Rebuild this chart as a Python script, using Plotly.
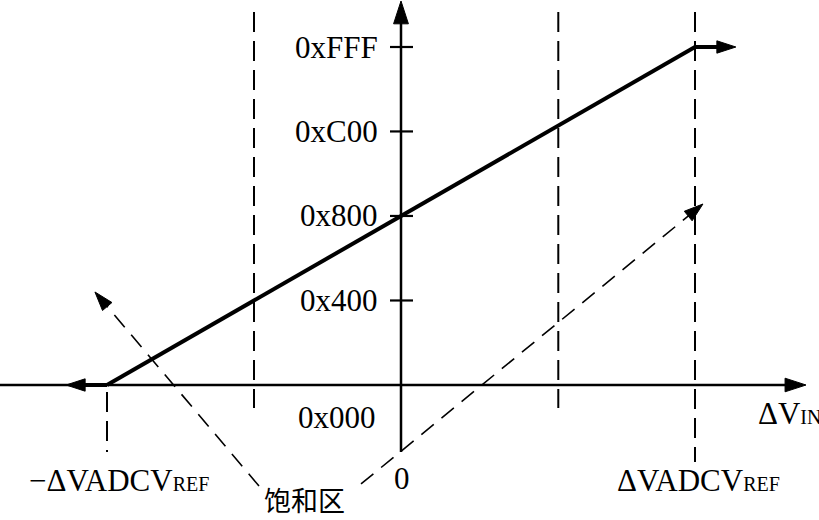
import plotly.graph_objects as go

# ---------------- data (in diagram units) ----------------
# x in units of ΔVADCV_REF, y in ADC codes
ref_points = [-1.0, 1.0]              # -ΔVADCV_REF, +ΔVADCV_REF
code_points = [0, 4095]               # 0x000 .. 0xFFF
sat_left_x = [-1.0, -1.139]           # left saturation (held at 0x000)
sat_left_y = [0, 0]
sat_right_x = [1.0, 1.139]            # right saturation (held at 0xFFF)
sat_right_y = [4095, 4095]
tick_codes = [1024, 2048, 3072, 4095]
tick_labels = ["0x400", "0x800", "0xC00", "0xFFF"]
inner_guides = [-0.5, 0.535]          # inner dashed guide lines
# dashed pointers from the "饱和区" label
pointer_left_x = [-0.483, -1.041]
pointer_left_y = [-1224, 1127]
pointer_right_x = [-0.136, 1.027]
pointer_right_y = [-1199, 2193]

# ---------------- layout constants ----------------
W, H = 819, 520
X0_PX, X_SCALE = 401.0, 294.0        # px of x=0, px per unit
Y0_PX, Y_SCALE = 385.0, 0.08254      # px of code 0, px per code

def xd(px):
    return (px - X0_PX) / X_SCALE

def yd(px):
    return (Y0_PX - px) / Y_SCALE

xr = [xd(0), xd(W)]
yr = [yd(H), yd(0)]

BLACK = "#000000"
SERIF = "Liberation Serif, Times New Roman, serif"
CJK = "Noto Sans CJK SC"

fig = go.Figure()


def arrow_line(xs, ys, width, dash="solid", head=22):
    n = len(xs)
    fig.add_trace(go.Scatter(
        x=xs, y=ys, mode="lines+markers",
        line=dict(color=BLACK, width=width, dash=dash),
        marker=dict(symbol=["circle"] * (n - 1) + ["arrow"],
                    size=[0] * (n - 1) + [head],
                    angleref="previous", color=BLACK, opacity=1,
                    line=dict(width=1, color=BLACK)),
        opacity=1,
        hoverinfo="skip", showlegend=False))


def plain_line(xs, ys, width, dash="solid"):
    fig.add_trace(go.Scatter(
        x=xs, y=ys, mode="lines",
        line=dict(color=BLACK, width=width, dash=dash),
        hoverinfo="skip", showlegend=False))


# axes with arrows
arrow_line([xr[0], xd(806)], [0, 0], 2.5, head=22)
arrow_line([0, 0], [yd(452), yd(1)], 2.5, head=24)

# y ticks
for c in tick_codes:
    plain_line([xd(390), xd(413)], [c, c], 2.2)

# vertical dashed guides
GUIDE_DASH = "20px,9px"
plain_line([ref_points[0], ref_points[0]], [yd(392), yd(452)], 2, GUIDE_DASH)
plain_line([ref_points[1], ref_points[1]], [yd(12), yd(462)], 2, GUIDE_DASH)
for g in inner_guides:
    plain_line([g, g], [yd(12), yd(408)], 2, GUIDE_DASH)

# transfer characteristic
plain_line(ref_points, code_points, 4)
arrow_line(sat_left_x, sat_left_y, 4, head=20)
arrow_line(sat_right_x, sat_right_y, 4, head=20)

# dashed pointers from the saturation label
arrow_line(pointer_left_x, pointer_left_y, 1.6, "16px,10px", head=20)
arrow_line(pointer_right_x, pointer_right_y, 1.6, "16px,10px", head=20)

# ---------------- text ----------------
ann = []
for c, t in zip(tick_codes, tick_labels):
    ann.append(dict(x=xd(380), y=c, text=t, xanchor="right", yanchor="middle"))
ann.append(dict(x=xd(378), y=0, yshift=-32, text="0x000",
                xanchor="right", yanchor="middle"))
ann.append(dict(x=0, y=0, xshift=1, yshift=-93, text="0",
                xanchor="center", yanchor="middle"))
ann.append(dict(x=ref_points[0], y=0, xshift=12, yshift=-95,
                text="\u2212\u0394VADCV<span style='font-size:20px'>REF</span>",
                xanchor="center", yanchor="middle"))
ann.append(dict(x=ref_points[1], y=0, xshift=3, yshift=-95,
                text="\u0394VADCV<span style='font-size:20px'>REF</span>",
                xanchor="center", yanchor="middle"))
ann.append(dict(x=xd(756), y=0, yshift=-28,
                text="\u0394V<span style='font-size:20px'>IN</span>",
                xanchor="left", yanchor="middle"))
for a in ann:
    a.update(xref="x", yref="y", showarrow=False,
             font=dict(family=SERIF, size=31, color=BLACK))
ann.append(dict(x=xd(304), y=yd(499), xref="x", yref="y", showarrow=False,
                text="饱和区", xanchor="center", yanchor="middle",
                font=dict(family=CJK, size=27, color=BLACK)))

fig.update_layout(
    width=W, height=H, autosize=False,
    margin=dict(l=0, r=0, t=0, b=0, pad=0),
    paper_bgcolor="white", plot_bgcolor="white",
    xaxis=dict(range=xr, visible=False, fixedrange=True),
    yaxis=dict(range=yr, visible=False, fixedrange=True),
    annotations=ann, showlegend=False,
)

fig.write_html(
    "out.html",
    config={"displayModeBar": False},
    post_script="document.body.style.margin='0';document.body.style.overflow='hidden';",
)
